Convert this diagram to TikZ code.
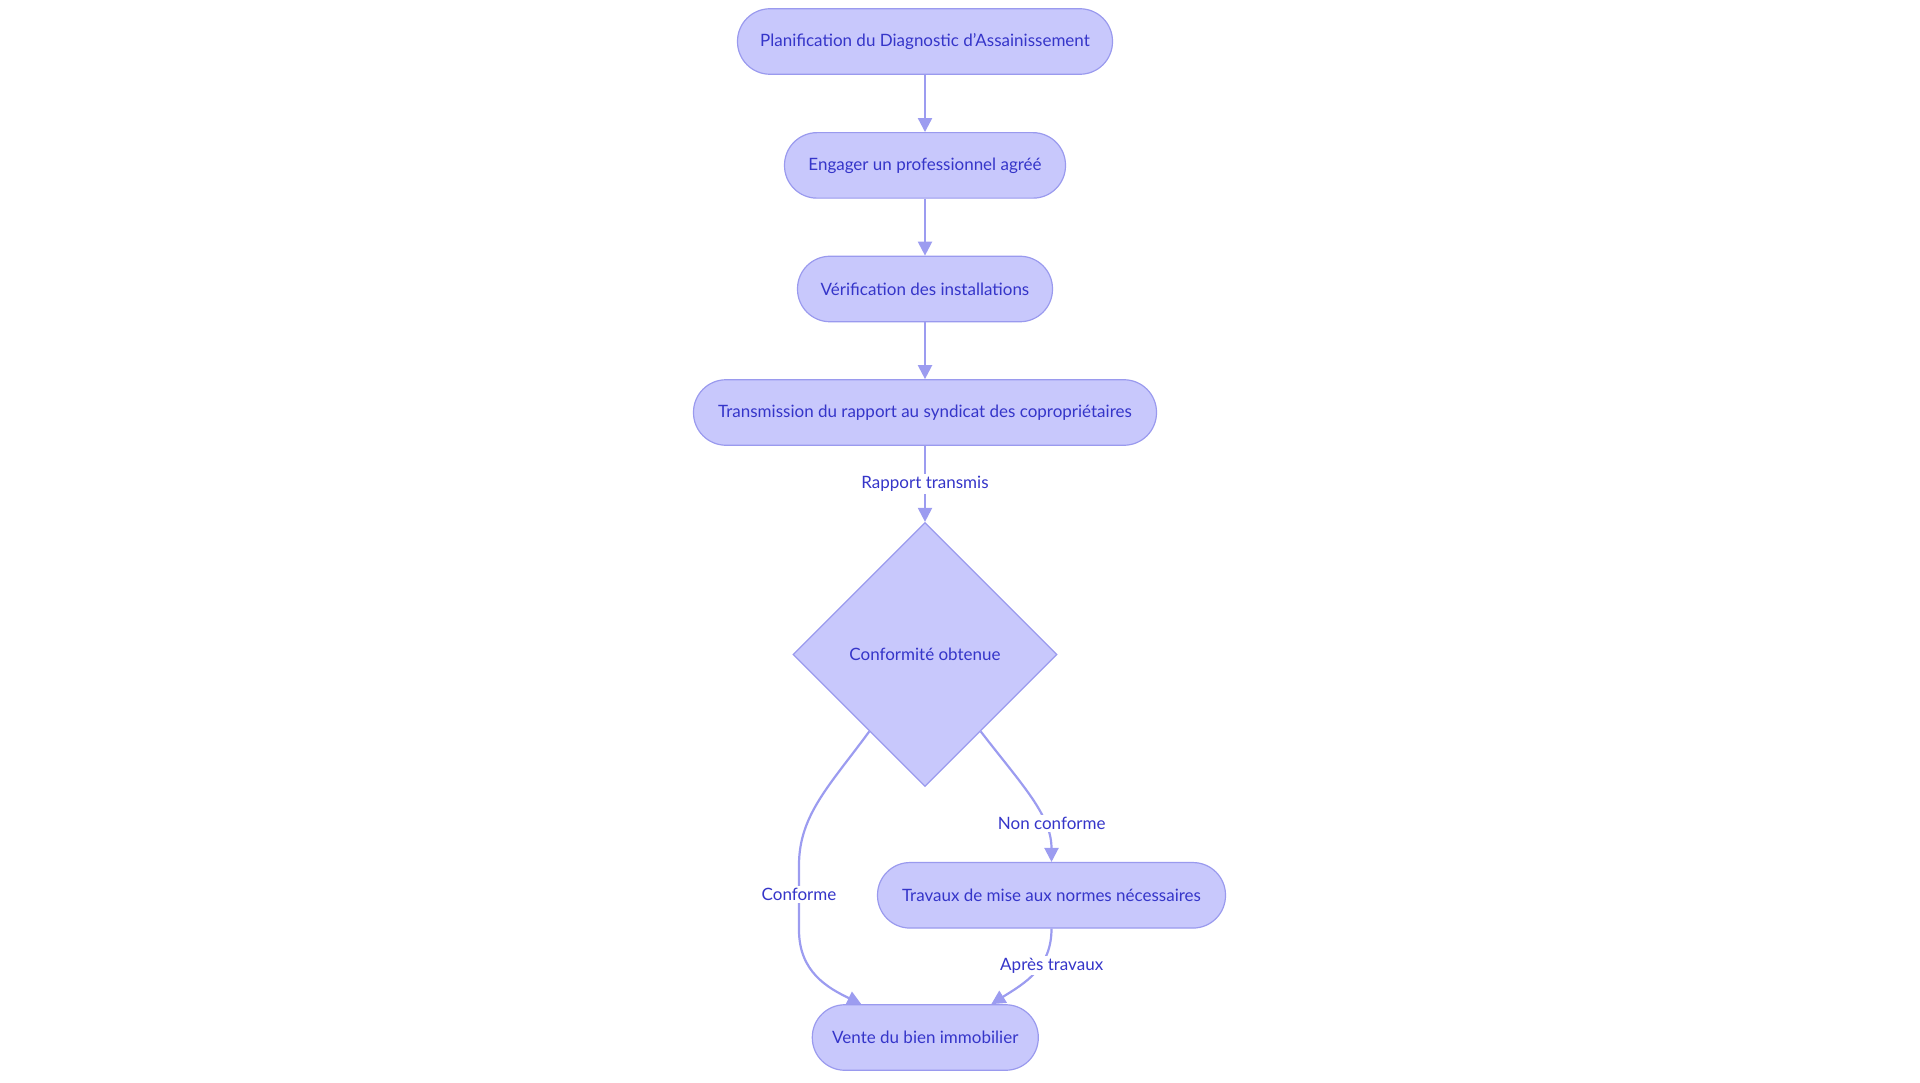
\documentclass[tikz,border=0pt]{standalone}
\usepackage{fontspec}
\setmainfont{Lato}
\usetikzlibrary{shapes.geometric,arrows.meta,calc}
\definecolor{nfill}{HTML}{C8C8FC}
\definecolor{nstroke}{HTML}{9A9AEE}
\definecolor{ntext}{HTML}{3535C9}
\definecolor{eline}{HTML}{9C9CF0}
\tikzset{
  pill/.style={draw=nstroke, fill=nfill, line width=1.2pt, rounded corners=32.5pt,
    minimum height=65.5pt, inner sep=0pt, text=ntext, font=\fontsize{17}{20}\selectfont},
  decide/.style={draw=nstroke, fill=nfill, line width=1.2pt, diamond, aspect=1,
    minimum size=264pt, inner sep=0pt, text=ntext, font=\fontsize{17}{20}\selectfont},
  conn/.style={draw=eline, line width=2.2pt, -{Triangle[length=14pt,width=14pt]}},
  elabel/.style={fill=white, text=ntext, inner sep=2pt, font=\fontsize{17}{20}\selectfont}
}
\begin{document}
\begin{tikzpicture}[x=1pt,y=-1pt]
\useasboundingbox (0,0) rectangle (1920,1083);
\node[pill, minimum width=375pt] (n1) at (925,41.5) {Planification du Diagnostic d'Assainissement};
\node[pill, minimum width=281pt] (n2) at (925,165.4) {Engager un professionnel agréé};
\node[pill, minimum width=255pt] (n3) at (925,289) {Vérification des installations};
\node[pill, minimum width=463pt] (n4) at (925,412.5) {Transmission du rapport au syndicat des copropriétaires};
\node[decide] (d) at (925,654.5) {Conformité obtenue};
\node[pill, minimum width=348pt] (n5) at (1051.5,895.3) {Travaux de mise aux normes nécessaires};
\node[pill, minimum width=226pt] (n6) at (925.3,1037.5) {Vente du bien immobilier};

\draw[conn] (n1) -- (n2);
\draw[conn] (n2) -- (n3);
\draw[conn] (n3) -- (n4);
\draw[conn] (n4) -- (d) node[elabel, pos=0.5] (l1) {Rapport transmis};

\coordinate (dl) at ($(d.south)!0.42!(d.west)$);
\coordinate (dr) at ($(d.south)!0.42!(d.east)$);
\coordinate (e6l) at ($(n6.north)+(-64,0)$);
\coordinate (e6r) at ($(n6.north)+(66,0)$);

\draw[conn] (dl) .. controls (830,785) and (799,815) .. (799,865)
  -- (799,930) .. controls (799,972) and (828,988) .. (e6l);
\node[elabel] (l2) at (799,894.3) {Conforme};

\draw[conn] (dr) .. controls (1022,785) and (1051.5,815) .. (n5.north);
\node[elabel] (l3) at (1051.7,823.3) {Non conforme};

\draw[conn] (n5.south) .. controls (1051.5,968) and (1025,983) .. (e6r);
\node[elabel] (l4) at (1051.7,965.3) {Après travaux};
\end{tikzpicture}
\end{document}
